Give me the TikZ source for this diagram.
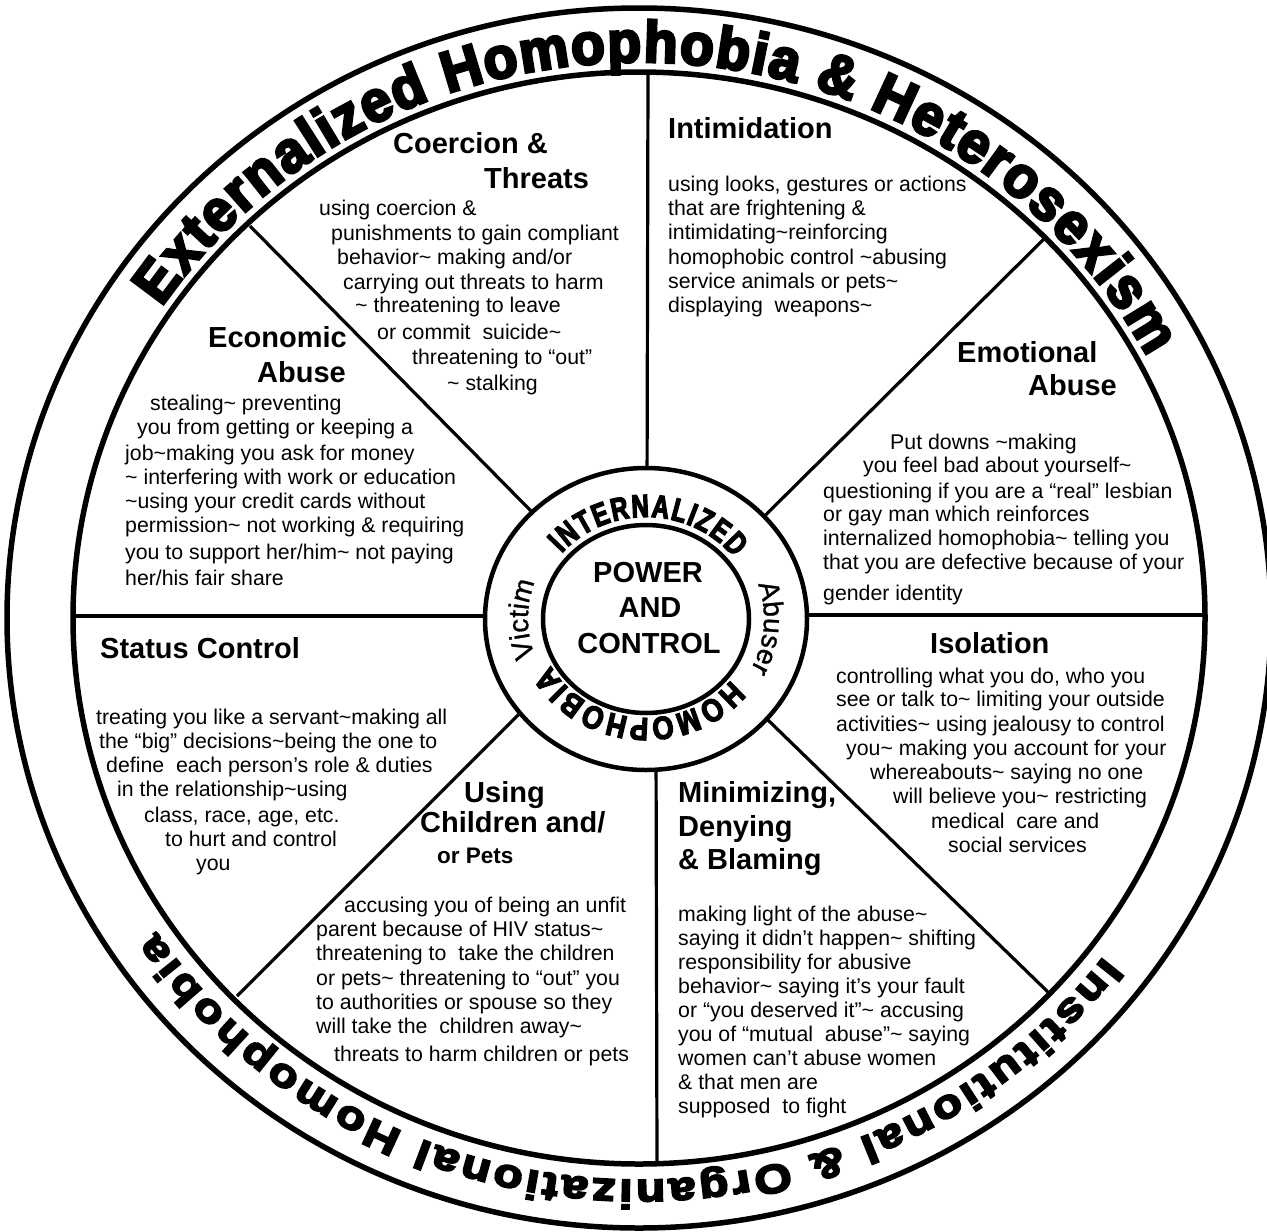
\documentclass[tikz,border=0pt]{standalone}
\usepackage{fontspec}
\setmainfont{Liberation Sans}
\newfontfamily\topring{Liberation Sans}[UprightFont={* Bold},FakeBold=5,FakeStretch=0.95]
\newfontfamily\botring{Liberation Sans}[UprightFont={* Bold},FakeBold=5,FakeStretch=1.2]
\newfontfamily\hubringA{Liberation Sans}[UprightFont={* Bold},FakeBold=4,FakeStretch=0.75]
\newfontfamily\hubringB{Liberation Sans}[UprightFont={* Bold},FakeBold=4,FakeStretch=0.85]
\newfontfamily\sidering{Liberation Sans}[FakeBold=1]
\usetikzlibrary{decorations.text,calc}
\newcommand\tld{\textasciitilde}
\begin{document}
\begin{tikzpicture}[x=1pt,y=-1pt,
  bt/.style={anchor=base west,inner sep=0pt,font=\fontsize{21.3}{24}\selectfont},
  tt/.style={anchor=base west,inner sep=0pt,font=\bfseries\fontsize{29}{32}\selectfont},
  hubt/.style={anchor=base,inner sep=0pt,font=\bfseries\fontsize{29}{32}\selectfont},
  ring/.style={line width=5.5pt},
  spoke/.style={line width=3.2pt},
  hubline/.style={line width=4.5pt}]
\useasboundingbox (0,0) rectangle (1267,1232);
\fill[white] (0,0) rectangle (1267,1232);
\clip (0,0) rectangle (1267,1232);
\coordinate (W) at (639,618);
\coordinate (H) at (646,619);
% spokes
\coordinate (sTo) at (648,73);   \coordinate (sTi) at (647,500);
\coordinate (sBo) at (657,1164); \coordinate (sBi) at (656,740);
\coordinate (sLo) at (73,616);   \coordinate (sLi) at (520,616);
\coordinate (sRo) at (1205,615); \coordinate (sRi) at (770,615);
\coordinate (sULo) at (250,226); \coordinate (sULi) at (600,581);
\coordinate (sURo) at (1046,237);\coordinate (sURi) at (700,580);
\coordinate (sLLo) at (237,996); \coordinate (sLLi) at (600,633);
\coordinate (sLRo) at (1049,993);\coordinate (sLRi) at (700,654);
\foreach \s in {T,B,L,R,UL,UR,LL,LR}{\draw[spoke] (s\s o) -- (s\s i);}
% hub
\filldraw[hubline,fill=white] (H) ellipse[x radius=161,y radius=151];
\draw[hubline] (H) ellipse[x radius=103,y radius=94];
% wheel
\draw[ring] (W) ellipse[x radius=566,y radius=546];
\draw[ring] (W) ellipse[x radius=632,y radius=610];
% ring texts
\path[decorate,decoration={text along path,text align=fit to path,
  text={|\topring\fontsize{58}{58}\selectfont|Externalized Homophobia {\&} Heterosexism}}]
  ($(W)+(-146:576 and 556)$) arc[start angle=-146,end angle=-28,x radius=576,y radius=556];
\path[decorate,decoration={text along path,text align=fit to path,
  text={|\botring\fontsize{40}{40}\selectfont|Institutional {\&} Organizational Homophobia}}]
  ($(W)+(37:582 and 562)$) arc[start angle=37,end angle=146,x radius=582,y radius=562];
\path[decorate,decoration={text along path,text align=fit to path,
  text={|\hubringA\fontsize{32}{32}\selectfont|INTERNALIZED}}]
  ($(H)+(-140:110 and 102)$) arc[start angle=-140,end angle=-37,x radius=110,y radius=102];
\path[decorate,decoration={text along path,text align=fit to path,
  text={|\hubringB\fontsize{32}{32}\selectfont|HOMOPHOBIA}}]
  ($(H)+(38:108 and 99)$) arc[start angle=38,end angle=152,x radius=108,y radius=99];
\path[decorate,decoration={text along path,text align=center,
  text={|\sidering\fontsize{28}{28}\selectfont|Victim}}]
  ($(H)+(-202:118 and 109)$) arc[start angle=-202,end angle=-158,x radius=118,y radius=109];
\path[decorate,decoration={text along path,text align=center,
  text={|\sidering\fontsize{28}{28}\selectfont|Abuser}}]
  ($(H)+(-19:118 and 109)$) arc[start angle=-19,end angle=28,x radius=118,y radius=109];
% hub text
\node[hubt] (p1) at (648,582) {POWER};
\node[hubt] (p2) at (650,617) {AND};
\node[hubt] (p3) at (649,653) {CONTROL};
% Coercion & Threats
\node[tt] (ct1) at (393,153) {Coercion \&};
\node[tt] (ct2) at (484,188) {Threats};
\node[bt] (c1) at (319,215) {using coercion \&};
\node[bt] (c2) at (331,240) {punishments to gain compliant};
\node[bt] (c3) at (337,264) {behavior\tld{} making and/or};
\node[bt] (c4) at (343,289) {carrying out threats to harm};
\node[bt] (c5) at (355,312) {\tld{} threatening to leave};
\node[bt] (c6) at (377,339) {or commit\ \ suicide\tld};
\node[bt] (c7) at (412,364) {threatening to “out”};
\node[bt] (c8) at (447,390) {\tld{} stalking};
% Intimidation
\node[tt] (it) at (668,138) {Intimidation};
\node[bt] (i1) at (668,191) {using looks, gestures or actions};
\node[bt] (i2) at (668,215) {that are frightening \&};
\node[bt] (i3) at (668,239) {intimidating\tld reinforcing};
\node[bt] (i4) at (668,264) {homophobic control \tld abusing};
\node[bt] (i5) at (668,288) {service animals or pets\tld};
\node[bt] (i6) at (668,312) {displaying\ \ weapons\tld};
% Economic Abuse
\node[tt] (et1) at (208,347) {Economic};
\node[tt] (et2) at (257,382) {Abuse};
\node[bt] (e1) at (150,410) {stealing\tld{} preventing};
\node[bt] (e2) at (137,434) {you from getting or keeping a};
\node[bt] (e3) at (125,460) {job\tld making you ask for money};
\node[bt] (e4) at (125,484) {\tld{} interfering with work or education};
\node[bt] (e5) at (125,508) {\tld using your credit cards without};
\node[bt] (e6) at (125,532) {permission\tld{} not working \& requiring};
\node[bt] (e7) at (125,559) {you to support her/him\tld{} not paying};
\node[bt] (e8) at (125,585) {her/his fair share};
% Emotional Abuse
\node[tt] (mt1) at (957,362) {Emotional};
\node[tt] (mt2) at (1028,395) {Abuse};
\node[bt] (m1) at (890,449) {Put downs \tld making};
\node[bt] (m2) at (863,472) {you feel bad about yourself\tld};
\node[bt] (m3) at (823,498) {questioning if you are a “real” lesbian};
\node[bt] (m4) at (823,521) {or gay man which reinforces};
\node[bt] (m5) at (823,545) {internalized homophobia\tld{} telling you};
\node[bt] (m6) at (823,569) {that you are defective because of your};
\node[bt] (m7) at (823,600) {gender identity};
% Isolation
\node[tt] (st) at (930,653) {Isolation};
\node[bt] (s1) at (836,683) {controlling what you do, who you};
\node[bt] (s2) at (836,706) {see or talk to\tld{} limiting your outside};
\node[bt] (s3) at (836,731) {activities\tld{} using jealousy to control};
\node[bt] (s4) at (846,755) {you\tld{} making you account for your};
\node[bt] (s5) at (870,779) {whereabouts\tld{} saying no one};
\node[bt] (s6) at (893,803) {will believe you\tld{} restricting};
\node[bt] (s7) at (931,828) {medical\ \ care and};
\node[bt] (s8) at (948,852) {social services};
% Status Control
\node[tt] (qt) at (100,658) {Status Control};
\node[bt] (q1) at (96,724) {treating you like a servant\tld making all};
\node[bt] (q2) at (99,748) {the “big” decisions\tld being the one to};
\node[bt] (q3) at (106,772) {define\ \ each person’s role \& duties};
\node[bt] (q4) at (117,796) {in the relationship\tld using};
\node[bt] (q5) at (144,822) {class, race, age, etc.};
\node[bt] (q6) at (165,846) {to hurt and control};
\node[bt] (q7) at (196,870) {you};
% Minimizing, Denying & Blaming
\node[tt] (nt1) at (678,802) {Minimizing,};
\node[tt] (nt2) at (678,836) {Denying};
\node[tt] (nt3) at (678,869) {\& Blaming};
\node[bt] (n1) at (678,921) {making light of the abuse\tld};
\node[bt] (n2) at (678,945) {saying it didn’t happen\tld{} shifting};
\node[bt] (n3) at (678,969) {responsibility for abusive};
\node[bt] (n4) at (678,993) {behavior\tld{} saying it’s your fault};
\node[bt] (n5) at (678,1017) {or “you deserved it”\tld{} accusing};
\node[bt] (n6) at (678,1041) {you of “mutual\ \ abuse”\tld{} saying};
\node[bt] (n7) at (678,1065) {women can’t abuse women};
\node[bt] (n8) at (678,1089) {\& that men are};
\node[bt] (n9) at (678,1113) {supposed\ \ to fight};
% Using Children and/or Pets
\node[tt] (ut1) at (464,802) {Using};
\node[tt] (ut2) at (420,832) {Children and/};
\node[tt,font=\bfseries\fontsize{22.5}{26}\selectfont] (ut3) at (437,863) {or Pets};
\node[bt] (u1) at (344,912) {accusing you of being an unfit};
\node[bt] (u2) at (316,936) {parent because of HIV status\tld};
\node[bt] (u3) at (316,960) {threatening to\ \ take the children};
\node[bt] (u4) at (316,985) {or pets\tld{} threatening to “out” you};
\node[bt] (u5) at (316,1009) {to authorities or spouse so they};
\node[bt] (u6) at (316,1033) {will take the\ \ children away\tld};
\node[bt] (u7) at (334,1061) {threats to harm children or pets};
\end{tikzpicture}
\end{document}
